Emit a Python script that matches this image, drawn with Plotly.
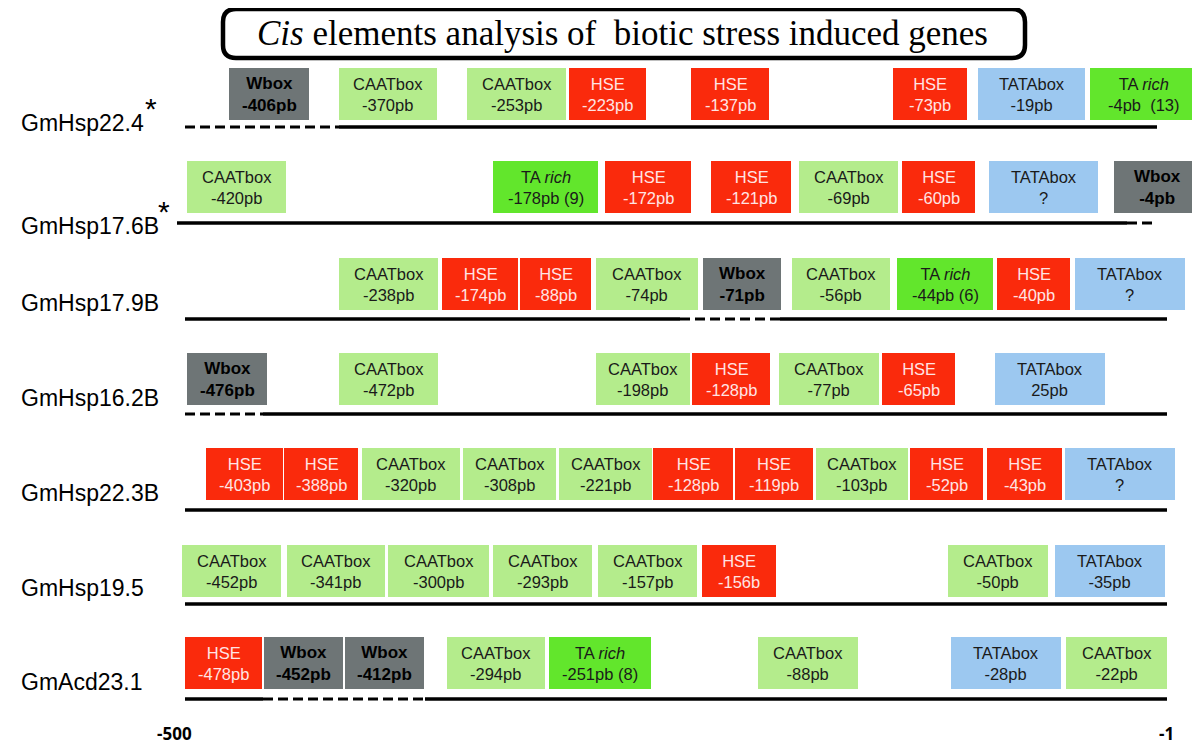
import plotly.graph_objects as go

# ---------------- data ----------------
GENES = ["GmHsp22.4", "GmHsp17.6B", "GmHsp17.9B", "GmHsp16.2B",
         "GmHsp22.3B", "GmHsp19.5", "GmAcd23.1"]
GENE_STAR = [True, True, False, False, False, False, False]

TYPES_22_4 = ["Wbox", "CAATbox", "CAATbox", "HSE", "HSE", "HSE", "TATAbox", "TArich"]
POS_22_4 = ["-406pb", "-370pb", "-253pb", "-223pb", "-137pb", "-73pb", "-19pb", "-4pb  (13)"]

TYPES_17_6B = ["CAATbox", "TArich", "HSE", "HSE", "CAATbox", "HSE", "TATAbox", "Wbox"]
POS_17_6B = ["-420pb", "-178pb (9)", "-172pb", "-121pb", "-69pb", "-60pb", "?", "-4pb"]

TYPES_17_9B = ["CAATbox", "HSE", "HSE", "CAATbox", "Wbox", "CAATbox", "TArich", "HSE", "TATAbox"]
POS_17_9B = ["-238pb", "-174pb", "-88pb", "-74pb", "-71pb", "-56pb", "-44pb (6)", "-40pb", "?"]

TYPES_16_2B = ["Wbox", "CAATbox", "CAATbox", "HSE", "CAATbox", "HSE", "TATAbox"]
POS_16_2B = ["-476pb", "-472pb", "-198pb", "-128pb", "-77pb", "-65pb", "25pb"]

TYPES_22_3B = ["HSE", "HSE", "CAATbox", "CAATbox", "CAATbox", "HSE", "HSE", "CAATbox", "HSE", "HSE", "TATAbox"]
POS_22_3B = ["-403pb", "-388pb", "-320pb", "-308pb", "-221pb", "-128pb", "-119pb", "-103pb", "-52pb", "-43pb", "?"]

TYPES_19_5 = ["CAATbox", "CAATbox", "CAATbox", "CAATbox", "CAATbox", "HSE", "CAATbox", "TATAbox"]
POS_19_5 = ["-452pb", "-341pb", "-300pb", "-293pb", "-157pb", "-156b", "-50pb", "-35pb"]

TYPES_ACD23_1 = ["HSE", "Wbox", "Wbox", "CAATbox", "TArich", "CAATbox", "TATAbox", "CAATbox"]
POS_ACD23_1 = ["-478pb", "-452pb", "-412pb", "-294pb", "-251pb (8)", "-88pb", "-28pb", "-22pb"]

AXIS_LABELS = ["-500", "-1"]
TITLE_ITALIC = "Cis"
TITLE_REST = " elements analysis of  biotic stress induced genes"

# ---------------- layout (schematic drawing positions, in drawing units) ----------------
ROW_TYPES = [TYPES_22_4, TYPES_17_6B, TYPES_17_9B, TYPES_16_2B, TYPES_22_3B, TYPES_19_5, TYPES_ACD23_1]
ROW_POS = [POS_22_4, POS_17_6B, POS_17_9B, POS_16_2B, POS_22_3B, POS_19_5, POS_ACD23_1]

BOX_SPANS = [
    [(229, 309), (339, 437), (467, 566), (569, 646), (691, 769), (893, 967), (978, 1085), (1090, 1198)],
    [(187, 286), (493, 598), (605, 691), (711, 791), (799, 898), (902, 975), (989, 1098), (1114, 1200)],
    [(339, 438), (442, 518), (520, 591), (596, 698), (703, 781), (792, 890), (897, 993), (997, 1070), (1075, 1185)],
    [(187, 267), (339, 438), (596, 690), (692, 770), (779, 879), (882, 955), (995, 1105)],
    [(206, 283), (284, 358), (362, 460), (463, 556), (559, 652), (653, 733), (735, 813), (816, 908), (910, 983), (987, 1062), (1065, 1175)],
    [(182, 281), (287, 385), (388, 489), (493, 592), (598, 697), (702, 776), (948, 1048), (1055, 1165)],
    [(185, 262), (264, 343), (345, 424), (447, 545), (549, 651), (758, 858), (951, 1061), (1066, 1167)],
]
BOX_TOP = [68, 161, 258, 353, 448, 545, 637]
BOX_H = 52
LINE_Y = [127, 223, 319, 414, 510, 604, 699]
LABEL_Y = [123, 226, 303, 398, 493, 588, 682]
LABEL_W = [126, 139]  # label widths used to place the superscript asterisk
# line segments: (x0, x1, dashed)
LINE_SEGS = [
    [(185, 339, True), (339, 1157, False)],
    [(177, 1127, False), (1127, 1157, True)],
    [(185, 680, False), (680, 780, True), (780, 1167, False)],
    [(185, 263, True), (263, 1167, False)],
    [(185, 1167, False)],
    [(185, 1167, False)],
    [(185, 263, False), (263, 425, True), (425, 1167, False)],
]

STYLE = {
    "CAATbox": dict(fill="#b4ec8c", font="#1a1a1a", bold=False, name="CAATbox"),
    "HSE": dict(fill="#fa2a0c", font="#ffe4e4", bold=False, name="HSE"),
    "TATAbox": dict(fill="#9cc8f0", font="#1a1a1a", bold=False, name="TATAbox"),
    "TArich": dict(fill="#62e62c", font="#1a1a1a", bold=False, name="TA <i>rich</i>"),
    "Wbox": dict(fill="#6e7576", font="#000000", bold=True, name="Wbox"),
}

fig = go.Figure()
shapes = []
annotations = []

for r, (types, poss, spans) in enumerate(zip(ROW_TYPES, ROW_POS, BOX_SPANS)):
    top = BOX_TOP[r]
    for t, p, (x0, x1) in zip(types, poss, spans):
        st = STYLE[t]
        shapes.append(dict(type="rect", xref="x", yref="y", x0=x0, x1=x1, y0=top, y1=top + BOX_H,
                           fillcolor=st["fill"], line=dict(width=0), layer="above"))
        txt = f"{st['name']}<br>{p}"
        if st["bold"]:
            txt = f"<b>{st['name']}</b><br><b>{p}</b>"
        annotations.append(dict(x=(x0 + x1) / 2, y=top + BOX_H / 2, xref="x", yref="y", text=txt,
                                showarrow=False,
                                font=dict(family="Liberation Sans, Arial", size=17 if st["bold"] else 16.5,
                                          color=st["font"]),
                                align="center"))
    for (x0, x1, dashed) in LINE_SEGS[r]:
        shapes.append(dict(type="line", xref="x", yref="y", x0=x0, x1=x1, y0=LINE_Y[r], y1=LINE_Y[r],
                           line=dict(color="black", width=3.5 if not dashed else 3,
                                     dash="10px,5px" if dashed else "solid")))
    annotations.append(dict(x=19, y=LABEL_Y[r], xref="x", yref="y", text=GENES[r], showarrow=False,
                            xanchor="left", yanchor="middle",
                            font=dict(family="Liberation Sans, Arial", size=23, color="black")))

# superscript asterisks
for r, star in enumerate(GENE_STAR):
    if star:
        annotations.append(dict(x=19 + LABEL_W[r] + 6, y=LABEL_Y[r] - 15, xref="x", yref="y", text="*",
                                showarrow=False,
                                font=dict(family="Liberation Sans, Arial", size=30, color="black")))

# title box
shapes.append(dict(type="path", xref="x", yref="y",
                   path="M 236,9 L 1012,9 Q 1025,9 1025,22 L 1025,45 Q 1025,58 1012,58 L 236,58 Q 223,58 223,45 L 223,22 Q 223,9 236,9 Z",
                   line=dict(color="black", width=4.5), fillcolor="white"))
annotations.append(dict(x=622, y=33, xref="x", yref="y",
                        text=f"<i>{TITLE_ITALIC}</i>{TITLE_REST}", showarrow=False,
                        font=dict(family="Liberation Serif, serif", size=35, color="black")))

# axis end labels
annotations.append(dict(x=174, y=733, xref="x", yref="y", text=f"<b>{AXIS_LABELS[0]}</b>", showarrow=False,
                        font=dict(family="Open Sans", size=17, color="black")))
annotations.append(dict(x=1166, y=733, xref="x", yref="y", text=f"<b>{AXIS_LABELS[1]}</b>", showarrow=False,
                        font=dict(family="Open Sans", size=17, color="black")))

# the page body has an 8px margin, so the drawing range is shifted by it
fig.update_layout(
    width=1200, height=756, margin=dict(l=0, r=0, t=0, b=0),
    paper_bgcolor="white", plot_bgcolor="white",
    xaxis=dict(range=[8, 1208], visible=False, fixedrange=True),
    yaxis=dict(range=[764, 8], visible=False, fixedrange=True),
    shapes=shapes, annotations=annotations, showlegend=False,
)
fig.write_html("out.html")
